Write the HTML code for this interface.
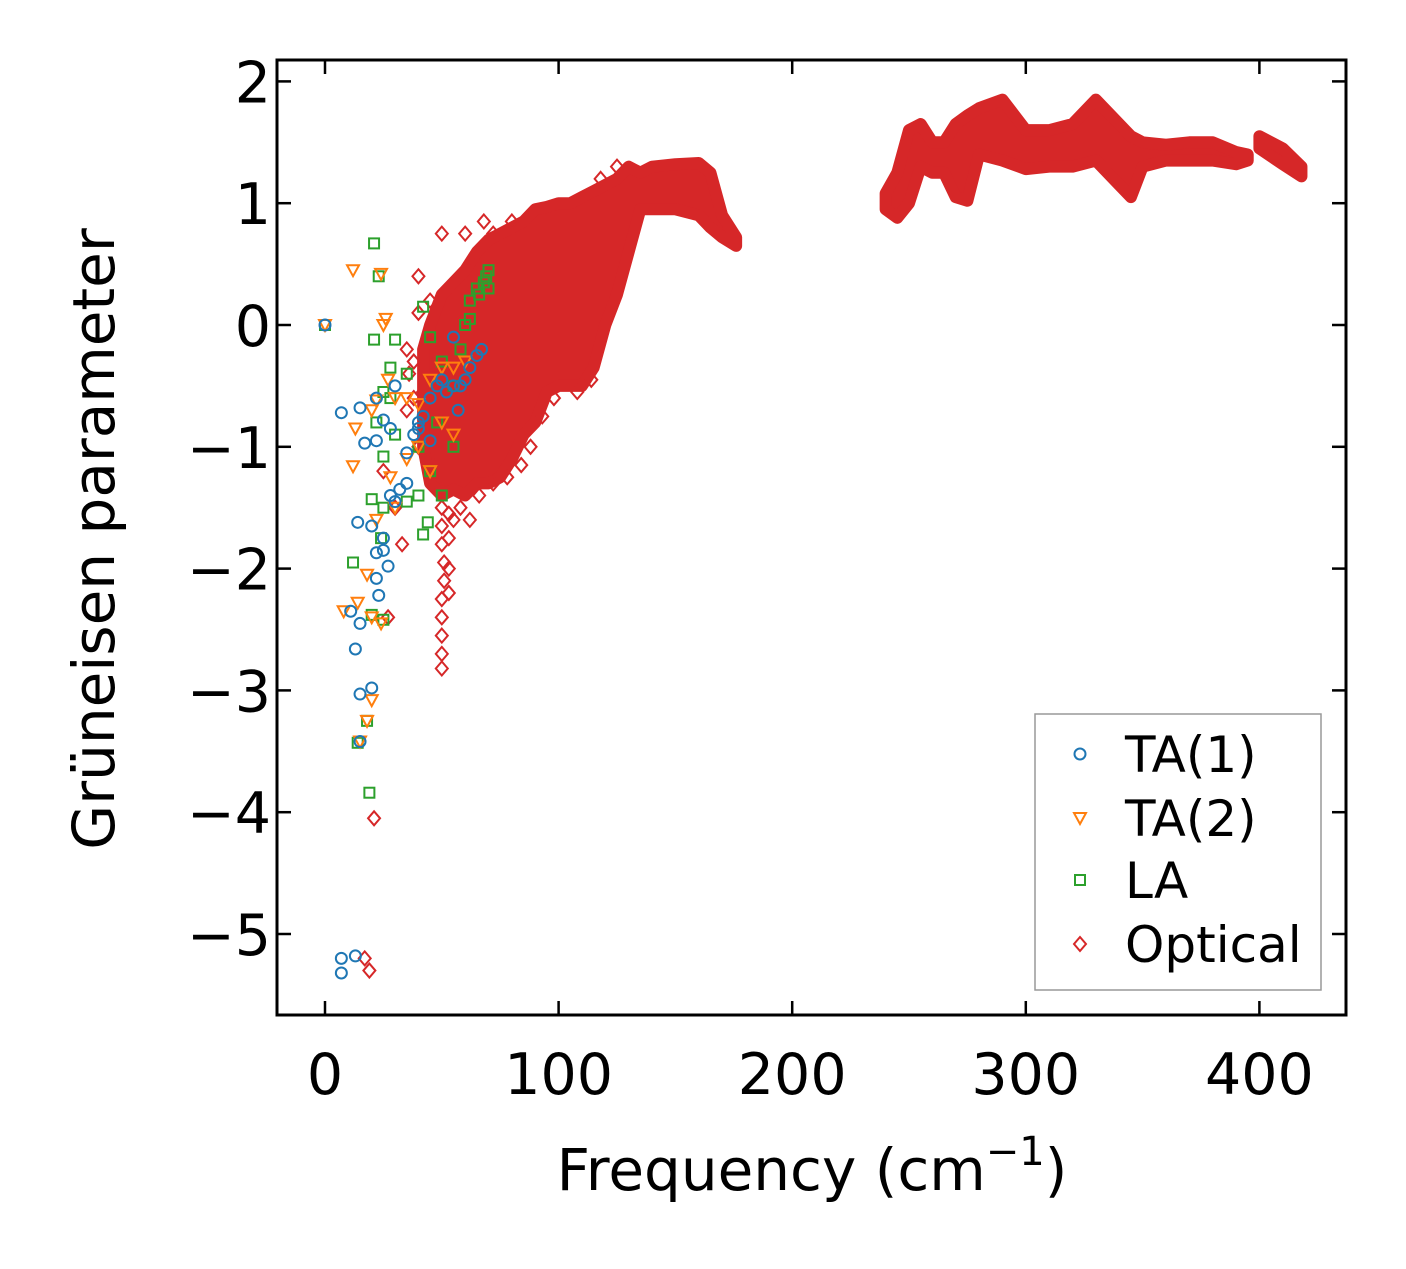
<!DOCTYPE html>
<html><head><meta charset="utf-8"><style>
body{margin:0;background:#fff}
svg text{font-family:"DejaVu Sans","Liberation Sans",sans-serif;fill:#000}
</style></head><body>
<svg id="chart" width="1406" height="1264" xmlns="http://www.w3.org/2000/svg">
<rect width="1406" height="1264" fill="#fff"/>
<g id="marks"></g>
<g id="axes"></g>
<text x="812" y="1190" font-size="58" text-anchor="middle">Frequency (cm<tspan dy="-25" font-size="40">−1</tspan><tspan dy="25">)</tspan></text>
<text transform="translate(114,539) rotate(-90)" font-size="58" text-anchor="middle">Grüneisen parameter</text>
<g id="legend">
<rect x="1035" y="714" width="286" height="276" fill="#fff" stroke="#999" stroke-width="1.5"/>
</g>
</svg>
<script>
const xTicks=[0,100,200,300,400];
const yTicks=[2,1,0,-1,-2,-3,-4,-5];
const seriesNames=["TA(1)","TA(2)","LA","Optical"];
const ta1=[[0,0],[7,-0.72],[15,-0.68],[17,-0.97],[22,-0.95],[22,-0.6],[14,-1.62],[20,-1.65],[22,-1.87],[25,-1.75],[27,-1.98],[22,-2.08],[23,-2.22],[11,-2.35],[15,-2.45],[13,-2.66],[15,-3.03],[20,-2.98],[15,-3.42],[7,-5.2],[7,-5.32],[13,-5.18],[25,-1.85],[28,-1.4],[30,-1.45],[32,-1.35],[35,-1.3],[35,-1.05],[38,-0.9],[40,-0.85],[42,-0.75],[45,-0.95],[45,-0.6],[48,-0.5],[50,-0.45],[52,-0.55],[55,-0.5],[57,-0.7],[60,-0.45],[62,-0.35],[65,-0.25],[67,-0.2],[55,-0.1],[58,-0.5],[40,-0.8],[28,-0.85],[30,-0.5],[25,-0.78]];
const ta2=[[0,0],[12,0.45],[24,0.42],[25,0],[26,0.05],[12,-1.16],[13,-0.85],[20,-0.7],[22,-0.62],[27,-0.45],[30,-0.6],[35,-0.6],[40,-0.65],[45,-0.45],[50,-0.35],[55,-0.35],[60,-0.3],[50,-0.8],[55,-0.9],[22,-1.6],[28,-1.25],[30,-1.5],[8,-2.35],[14,-2.28],[18,-2.05],[20,-2.4],[24,-2.45],[20,-3.08],[18,-3.25],[15,-3.42],[35,-1.1],[40,-1.0],[45,-1.2]];
const la=[[0,0],[21,0.67],[23,0.4],[21,-0.12],[30,-0.12],[28,-0.35],[25,-0.55],[28,-0.6],[35,-0.4],[22,-0.8],[25,-1.08],[30,-0.9],[20,-1.43],[25,-1.5],[24,-1.75],[12,-1.95],[20,-2.38],[25,-2.42],[18,-3.25],[14,-3.43],[19,-3.84],[42,0.15],[45,-0.1],[50,-0.3],[55,-0.5],[58,-0.2],[60,0.0],[62,0.2],[65,0.3],[68,0.35],[70,0.45],[40,-1.0],[45,-1.2],[50,-1.4],[42,-1.72],[44,-1.62],[48,-0.8],[55,-1.0],[35,-1.45],[40,-1.4],[62,0.05],[66,0.25],[69,0.4],[70,0.3]];
const opticalBandMain=[[42,-0.2,-1.0],[45,0.0,-1.3],[50,0.25,-1.4],[55,0.35,-1.35],[60,0.45,-1.4],[65,0.6,-1.3],[70,0.7,-1.3],[75,0.75,-1.25],[80,0.8,-1.1],[85,0.85,-0.9],[90,0.95,-0.8],[95,0.97,-0.55],[100,1.0,-0.5],[105,1.0,-0.5],[110,1.05,-0.5],[115,1.1,-0.35],[120,1.15,0.0],[125,1.2,0.25],[130,1.3,0.6],[135,1.25,0.95],[140,1.3,0.95],[150,1.32,0.95],[160,1.33,0.9],[165,1.25,0.8],[170,0.9,0.72],[176,0.72,0.65]];
const opticalBandHigh=[[240,1.08,0.95],[245,1.25,0.88],[250,1.6,1.0],[255,1.65,1.3],[260,1.5,1.25],[265,1.5,1.25],[270,1.65,1.05],[275,1.72,1.02],[280,1.78,1.4],[290,1.85,1.35],[300,1.6,1.28],[310,1.6,1.3],[320,1.65,1.3],[330,1.85,1.35],[340,1.65,1.15],[345,1.55,1.05],[350,1.5,1.3],[360,1.48,1.35],[370,1.5,1.35],[380,1.5,1.35],[390,1.42,1.32],[395,1.4,1.35]];
const opticalBandTail=[[400,1.55,1.45],[410,1.45,1.32],[418,1.3,1.22]];
const opticalPoints=[[17,-5.2],[19,-5.3],[21,-4.05],[27,-2.4],[40,0.4],[50,0.75],[60,0.75],[68,0.85],[30,-1.5],[25,-1.2],[35,-0.7],[33,-1.8],[50,-1.5],[50,-1.65],[50,-1.8],[51,-1.95],[51,-2.1],[50,-2.25],[50,-2.4],[50,-2.55],[50,-2.7],[50,-2.82],[53,-1.55],[53,-1.75],[53,-2.0],[53,-2.2],[47,-1.3],[55,-1.6],[38,-0.3],[42,-0.55],[44,-1.1],[40,-1.0],[35,-0.2],[62,-1.6],[72,-1.3],[88,-1.0],[64,0.5],[72,0.75],[80,0.85],[118,1.2],[125,1.3],[36,-0.4],[38,-0.6],[40,0.1],[45,0.2],[58,-1.5],[66,-1.4],[78,-1.25],[84,-1.15],[93,-0.75],[98,-0.6],[108,-0.55],[114,-0.45]];
const X0=277,X1=1346,Y0=60,Y1=1015;
function xs(v){return 325+v*2.336;}
function ys(v){return 325-v*121.8;}
const NS="http://www.w3.org/2000/svg";
const marks=document.getElementById('marks');
const axes=document.getElementById('axes');
const leg=document.getElementById('legend');
function mk(tag,attrs,parent){const e=document.createElementNS(NS,tag);for(const k in attrs)e.setAttribute(k,attrs[k]);parent.appendChild(e);return e;}
const colors={ta1:"#1f77b4",ta2:"#ff7f0e",la:"#2ca02c",opt:"#d62728"};
function marker(type,x,y,c,parent){
  let e;
  if(type==="circle")e=mk('circle',{cx:x,cy:y,r:5.5,fill:"none",stroke:c,"stroke-width":2},parent);
  else if(type==="tri")e=mk('polygon',{points:`${x-6},${y-5} ${x+6},${y-5} ${x},${y+6}`,fill:"none",stroke:c,"stroke-width":2},parent);
  else if(type==="square")e=mk('rect',{x:x-5,y:y-5,width:10,height:10,fill:"none",stroke:c,"stroke-width":2},parent);
  else e=mk('polygon',{points:`${x},${y-7} ${x+6},${y} ${x},${y+7} ${x-6},${y}`,fill:"none",stroke:c,"stroke-width":2},parent);
  return e;
}
function band(arr,name){
  const top=arr.map(d=>`${xs(d[0])},${ys(d[1])}`);
  const bot=arr.slice().reverse().map(d=>`${xs(d[0])},${ys(d[2])}`);
  const p=mk('polygon',{points:top.concat(bot).join(' '),fill:colors.opt,stroke:colors.opt,"stroke-width":12,"stroke-linejoin":"round"},marks);
  
  
}
band(opticalBandMain,'optical-band-low');
band(opticalBandHigh,'optical-band-high');
band(opticalBandTail,'optical-band-tail');
opticalPoints.forEach(d=>{const e=marker('diamond',xs(d[0]),ys(d[1]),colors.opt,marks);

});
la.forEach(d=>{const e=marker('square',xs(d[0]),ys(d[1]),colors.la,marks);

});
ta2.forEach(d=>{const e=marker('tri',xs(d[0]),ys(d[1]),colors.ta2,marks);

});
ta1.forEach(d=>{const e=marker('circle',xs(d[0]),ys(d[1]),colors.ta1,marks);

});
const frame=mk('rect',{x:X0,y:Y0,width:X1-X0,height:Y1-Y0,fill:"none",stroke:"#000","stroke-width":3},axes);


xTicks.forEach(t=>{const x=xs(t);
mk('line',{x1:x,y1:Y1,x2:x,y2:Y1-14,stroke:"#000","stroke-width":2.5},axes);
mk('line',{x1:x,y1:Y0,x2:x,y2:Y0+14,stroke:"#000","stroke-width":2.5},axes);
const tx=mk('text',{x:x,y:1094,"font-size":57,"text-anchor":"middle"},axes);tx.textContent=String(t);

});
yTicks.forEach(t=>{const y=ys(t);
mk('line',{x1:X0,y1:y,x2:X0+14,y2:y,stroke:"#000","stroke-width":2.5},axes);
mk('line',{x1:X1,y1:y,x2:X1-14,y2:y,stroke:"#000","stroke-width":2.5},axes);
const tx=mk('text',{x:271,y:y+21,"font-size":57,"text-anchor":"end"},axes);tx.textContent=t<0?"−"+(-t):String(t);

});
const legTypes=["circle","tri","square","diamond"],legCols=[colors.ta1,colors.ta2,colors.la,colors.opt],legY=[754,818,880,944];
seriesNames.forEach((n,i)=>{
const m=marker(legTypes[i],1080,legY[i],legCols[i],leg);


const t=mk('text',{x:1125,y:legY[i]+18,"font-size":50},leg);t.textContent=n;


});
</script>
</body></html>
